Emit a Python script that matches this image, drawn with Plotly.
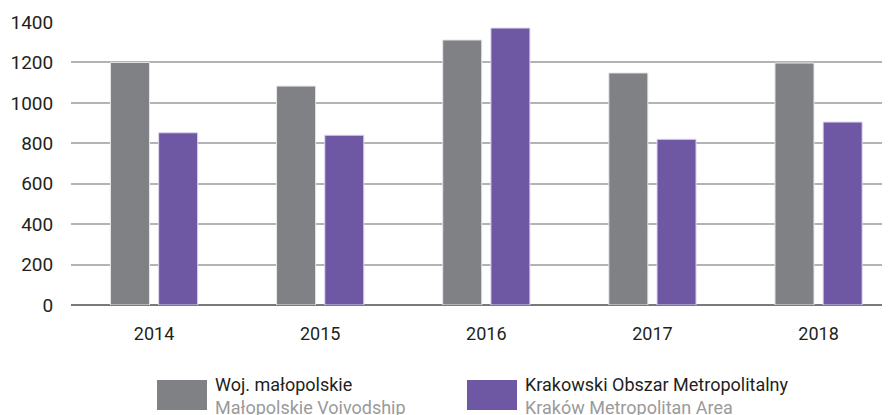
import plotly.graph_objects as go

years = ['2014', '2015', '2016', '2017', '2018']
woj_malopolskie = [1200, 1083, 1311, 1148, 1197]
krakow_metro = [852, 840, 1370, 820, 905]

_GRAY = '#808184'
_PURPLE = '#6e58a4'
_GRID = '#b3b3b3'
_FONT = 'Roboto, Noto Sans, sans-serif'
_TEXT = '#231f20'

fig = go.Figure()
fig.add_trace(go.Bar(
    x=years, y=woj_malopolskie, name='Woj. małopolskie',
    marker=dict(color=_GRAY, line=dict(color='#e6e6ea', width=1)),
    showlegend=False,
))
fig.add_trace(go.Bar(
    x=years, y=krakow_metro, name='Krakowski Obszar Metropolitalny',
    marker=dict(color=_PURPLE, line=dict(color='#ddd6ee', width=1)),
    showlegend=False,
))

# strona ma 8px marginesu body, więc figura jest mniejsza o 8px
fig.update_layout(
    width=882, height=407,
    margin=dict(l=63, r=0, t=14, b=110),
    barmode='group', bargap=0.42, bargroupgap=0.19,
    plot_bgcolor='white', paper_bgcolor='white',
    font=dict(family=_FONT, color=_TEXT, size=18),
)
fig.update_xaxes(
    range=[-0.5, 4.43], showgrid=False, showline=False,
    ticks='outside', ticklen=12, tickcolor='white',
    tickfont=dict(size=18),
)
fig.update_yaxes(
    range=[0, 1400], dtick=200, showgrid=True, gridcolor=_GRID, gridwidth=1.5,
    zeroline=True, zerolinecolor='#7a7a7a', zerolinewidth=2,
    ticks='outside', ticklen=13, tickcolor='white',
    tickfont=dict(size=19),
)

# legenda pod wykresem
legend_items = [
    (157, _GRAY, 'Woj. małopolskie', 'Małopolskie Voivodship'),
    (467, _PURPLE, 'Krakowski Obszar Metropolitalny', 'Kraków Metropolitan Area'),
]
for x0, color, pl, en in legend_items:
    fig.add_shape(
        type='rect', xref='paper', yref='paper',
        x0=(x0 - 71) / 819, x1=(x0 + 50 - 71) / 819,
        y0=(305 - 410) / 283, y1=(305 - 380) / 283,
        fillcolor=color, line=dict(width=0),
    )
    fig.add_annotation(
        xref='paper', yref='paper', x=(x0 + 56 - 71) / 819, y=(305 - 372) / 283,
        xanchor='left', yanchor='top', showarrow=False, align='left',
        text=pl + '<br><span style="color:#9a9a9a">' + en + '</span>',
        font=dict(size=18, color=_TEXT, family=_FONT),
    )

fig.write_html('out.html')
